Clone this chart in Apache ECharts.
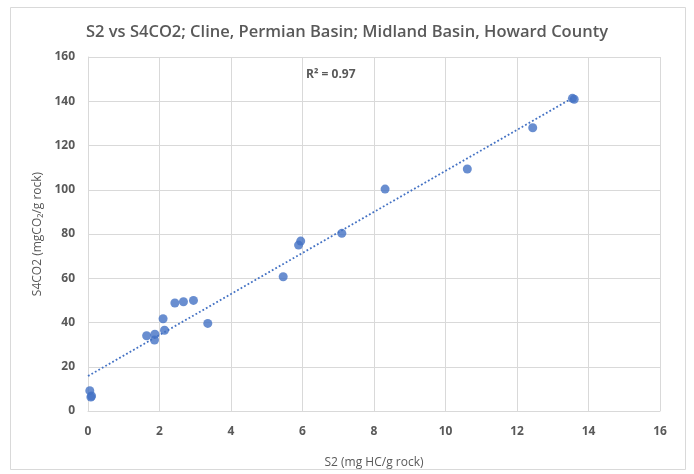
<!DOCTYPE html>
<html><head><meta charset="utf-8">
<script src="https://cdn.jsdelivr.net/npm/echarts@6/dist/echarts.min.js"></script>
<style>html,body{margin:0;padding:0;background:#fff}#c{width:694px;height:474px}</style>
</head><body><div id="c"></div>
<script>
// S2 (mg HC/g rock)
const s2 = [0.05, 0.1, 0.08, 1.64, 1.87, 1.86, 2.10, 2.14, 2.43, 2.67, 2.95, 3.35, 5.46, 5.89, 5.95, 7.10, 8.31, 10.61, 12.44, 13.55, 13.60];
// S4CO2 (mgCO2/g rock)
const s4co2 = [9.2, 6.8, 6.3, 34.0, 34.7, 32.1, 41.7, 36.5, 48.8, 49.4, 50.0, 39.6, 60.7, 75.0, 76.8, 80.3, 100.3, 109.4, 128.0, 141.3, 140.9];
// linear trendline endpoints
const trendX = [0, 13.6];
const trendY = [15.8, 141.9];
const xTicks = [0, 2, 4, 6, 8, 10, 12, 14, 16];
const yTicks = [0, 20, 40, 60, 80, 100, 120, 140, 160];
const r2Label = 'R² = 0.97';

const pts = s2.map((x, i) => [x, s4co2[i]]);
const trend = trendX.map((x, i) => [x, trendY[i]]);
const txt = '#595959';
const gridC = '#d9d9d9';
const font = 'Open Sans';

const chart = echarts.init(document.getElementById('c'), null, {renderer: 'canvas'});
chart.setOption({
  animation: false,
  backgroundColor: '#fff',
  title: {
    text: 'S2 vs S4CO2; Cline, Permian Basin; Midland Basin, Howard County',
    left: 'center', top: 19,
    textStyle: {fontFamily: font, fontSize: 16.5, fontWeight: 600, color: txt}
  },
  graphic: [
    {type: 'rect', shape: {x: 10.5, y: 7.5, width: 675, height: 462}, style: {fill: 'none', stroke: gridC, lineWidth: 1}, z: -1},
    {type: 'text', left: 306, top: 69, style: {text: r2Label, fontFamily: font, fontSize: 12, fontWeight: 'bold', fill: txt}}
  ],
  grid: {left: 88, right: 34, top: 57, bottom: 63},
  xAxis: {
    type: 'value', min: xTicks[0], max: xTicks[xTicks.length - 1], interval: 2,
    name: 'S2 (mg HC/g rock)', nameLocation: 'middle', nameGap: 46,
    nameTextStyle: {fontFamily: font, fontSize: 12, color: txt},
    axisLine: {show: true, lineStyle: {color: gridC}},
    axisTick: {show: false},
    axisLabel: {fontFamily: font, fontSize: 12, fontWeight: 'bold', color: txt, margin: 15},
    splitLine: {show: true, lineStyle: {color: gridC, width: 1}}
  },
  yAxis: {
    type: 'value', min: yTicks[0], max: yTicks[yTicks.length - 1], interval: 20,
    name: 'S4CO2 (mgCO\u2082/g rock)', nameLocation: 'middle', nameGap: 40, nameRotate: 90,
    nameTextStyle: {fontFamily: font, fontSize: 12, color: txt},
    axisLine: {show: true, lineStyle: {color: gridC}},
    axisTick: {show: false},
    axisLabel: {fontFamily: font, fontSize: 12, fontWeight: 'bold', color: txt, margin: 13},
    splitLine: {show: true, lineStyle: {color: gridC, width: 1}}
  },
  series: [
    {
      type: 'line', data: trend, symbol: 'none', silent: true,
      lineStyle: {color: '#4472C4', width: 1.8, type: [1.8, 2.2]}, z: 2
    },
    {
      type: 'scatter', data: pts, symbol: 'circle', symbolSize: 9,
      itemStyle: {color: '#4472C4'}, z: 3
    }
  ]
});
</script></body></html>
